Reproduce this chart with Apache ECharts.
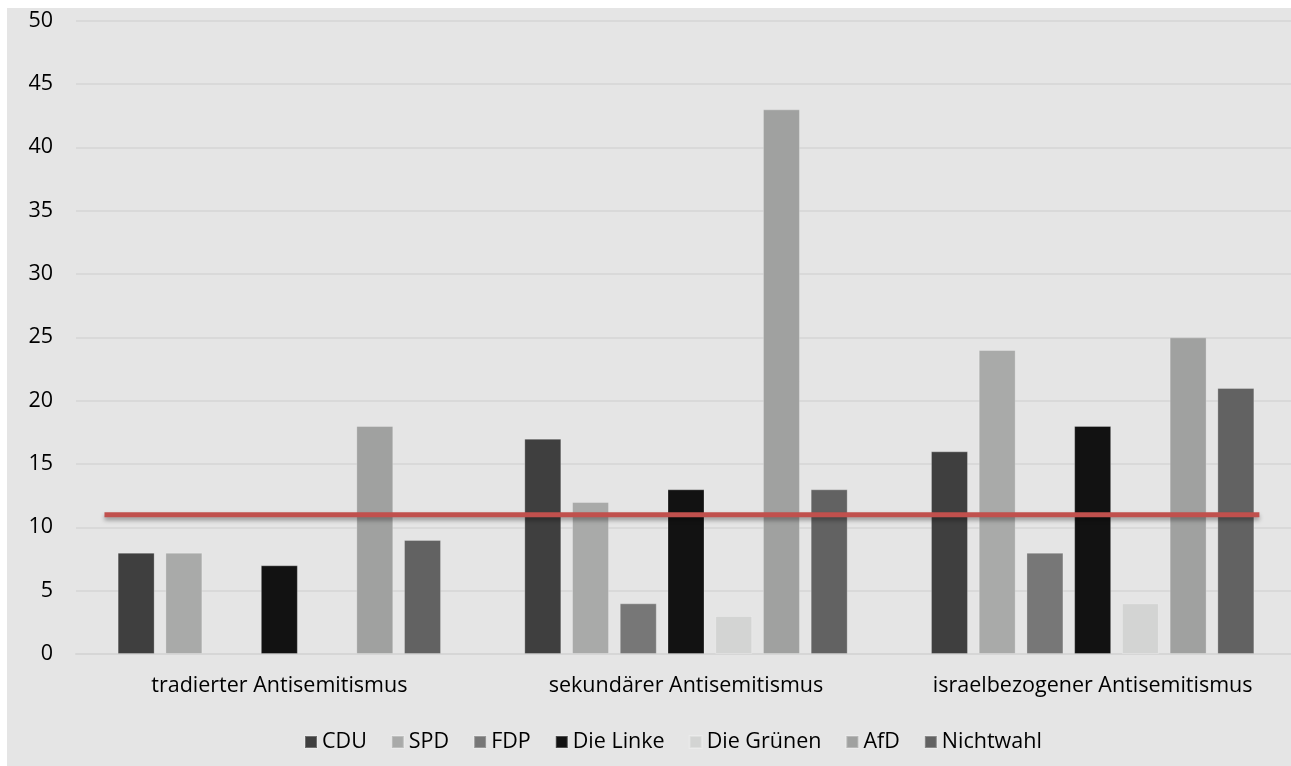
<!DOCTYPE html>
<html>
<head>
<meta charset="utf-8">
<script src="https://cdn.jsdelivr.net/npm/echarts@6/dist/echarts.min.js"></script>
<style>
  html, body { margin: 0; padding: 0; background: #ffffff; overflow: hidden; }
  #chart { position: absolute; left: 7px; top: 8px; width: 1291px; height: 758px; background: #e5e5e5; }
</style>
</head>
<body>
<div id="chart"></div>
<script>
const categories = ['tradierter Antisemitismus', 'sekundärer Antisemitismus', 'israelbezogener Antisemitismus']
const parties = ['CDU', 'SPD', 'FDP', 'Die Linke', 'Die Grünen', 'AfD', 'Nichtwahl']
const partyColors = ['#3f3f3f', '#a9aaa9', '#777777', '#121212', '#d3d4d3', '#a0a1a0', '#626262']
const cdu = [8, 17, 16]
const spd = [8, 12, 24]
const fdp = [null, 4, 8]
const linke = [7, 13, 18]
const gruene = [null, 3, 4]
const afd = [18, 43, 25]
const nichtwahl = [9, 13, 21]
const partyValues = [cdu, spd, fdp, linke, gruene, afd, nichtwahl]
// reference line (average), drawn on a hidden value x axis spanning the categories
const refValue = 11
const refSpan = [-0.43, 2.41]

const chart = echarts.init(document.getElementById('chart'))
const font = '"Open Sans", sans-serif'

const barSeries = parties.map((name, i) => {
  return {
    name: name,
    type: 'bar',
    data: partyValues[i],
    barWidth: 37,
    barGap: '29%',
    itemStyle: {
      color: partyColors[i],
      borderColor: 'rgba(255,255,255,0.25)',
      borderWidth: 1
    }
  }
})

const option = {
  animation: false,
  textStyle: { fontFamily: font },
  grid: { left: 69, right: 2, top: 12.7, bottom: 112 },
  legend: {
    data: parties,
    left: 292,
    top: 718,
    icon: 'rect',
    itemWidth: 12,
    itemHeight: 12,
    itemGap: 24,
    textStyle: { fontFamily: font, fontSize: 21.5, color: '#000' }
  },
  xAxis: [
    {
      type: 'category',
      data: categories,
      axisLine: { lineStyle: { color: '#d6d6d6', width: 2 } },
      axisTick: { show: false },
      axisLabel: { interval: 0, fontFamily: font, fontSize: 21.5, color: '#000', margin: 21 }
    },
    {
      type: 'value',
      min: -0.5,
      max: 2.5,
      show: false
    }
  ],
  yAxis: {
    type: 'value',
    min: 0,
    max: 50,
    interval: 5,
    axisLine: { show: false },
    axisTick: { show: false },
    axisLabel: { fontFamily: font, fontSize: 21.5, color: '#000', margin: 23 },
    splitLine: { lineStyle: { color: '#d9d9d9', width: 2 } }
  },
  series: barSeries.concat([
    {
      type: 'line',
      xAxisIndex: 1,
      data: [[refSpan[0], refValue], [refSpan[1], refValue]],
      symbol: 'none',
      silent: true,
      z: 5,
      lineStyle: {
        color: '#c0504d',
        width: 5,
        shadowColor: 'rgba(0,0,0,0.35)',
        shadowBlur: 4,
        shadowOffsetY: 3
      }
    }
  ])
}

chart.setOption(option)
</script>
</body>
</html>
